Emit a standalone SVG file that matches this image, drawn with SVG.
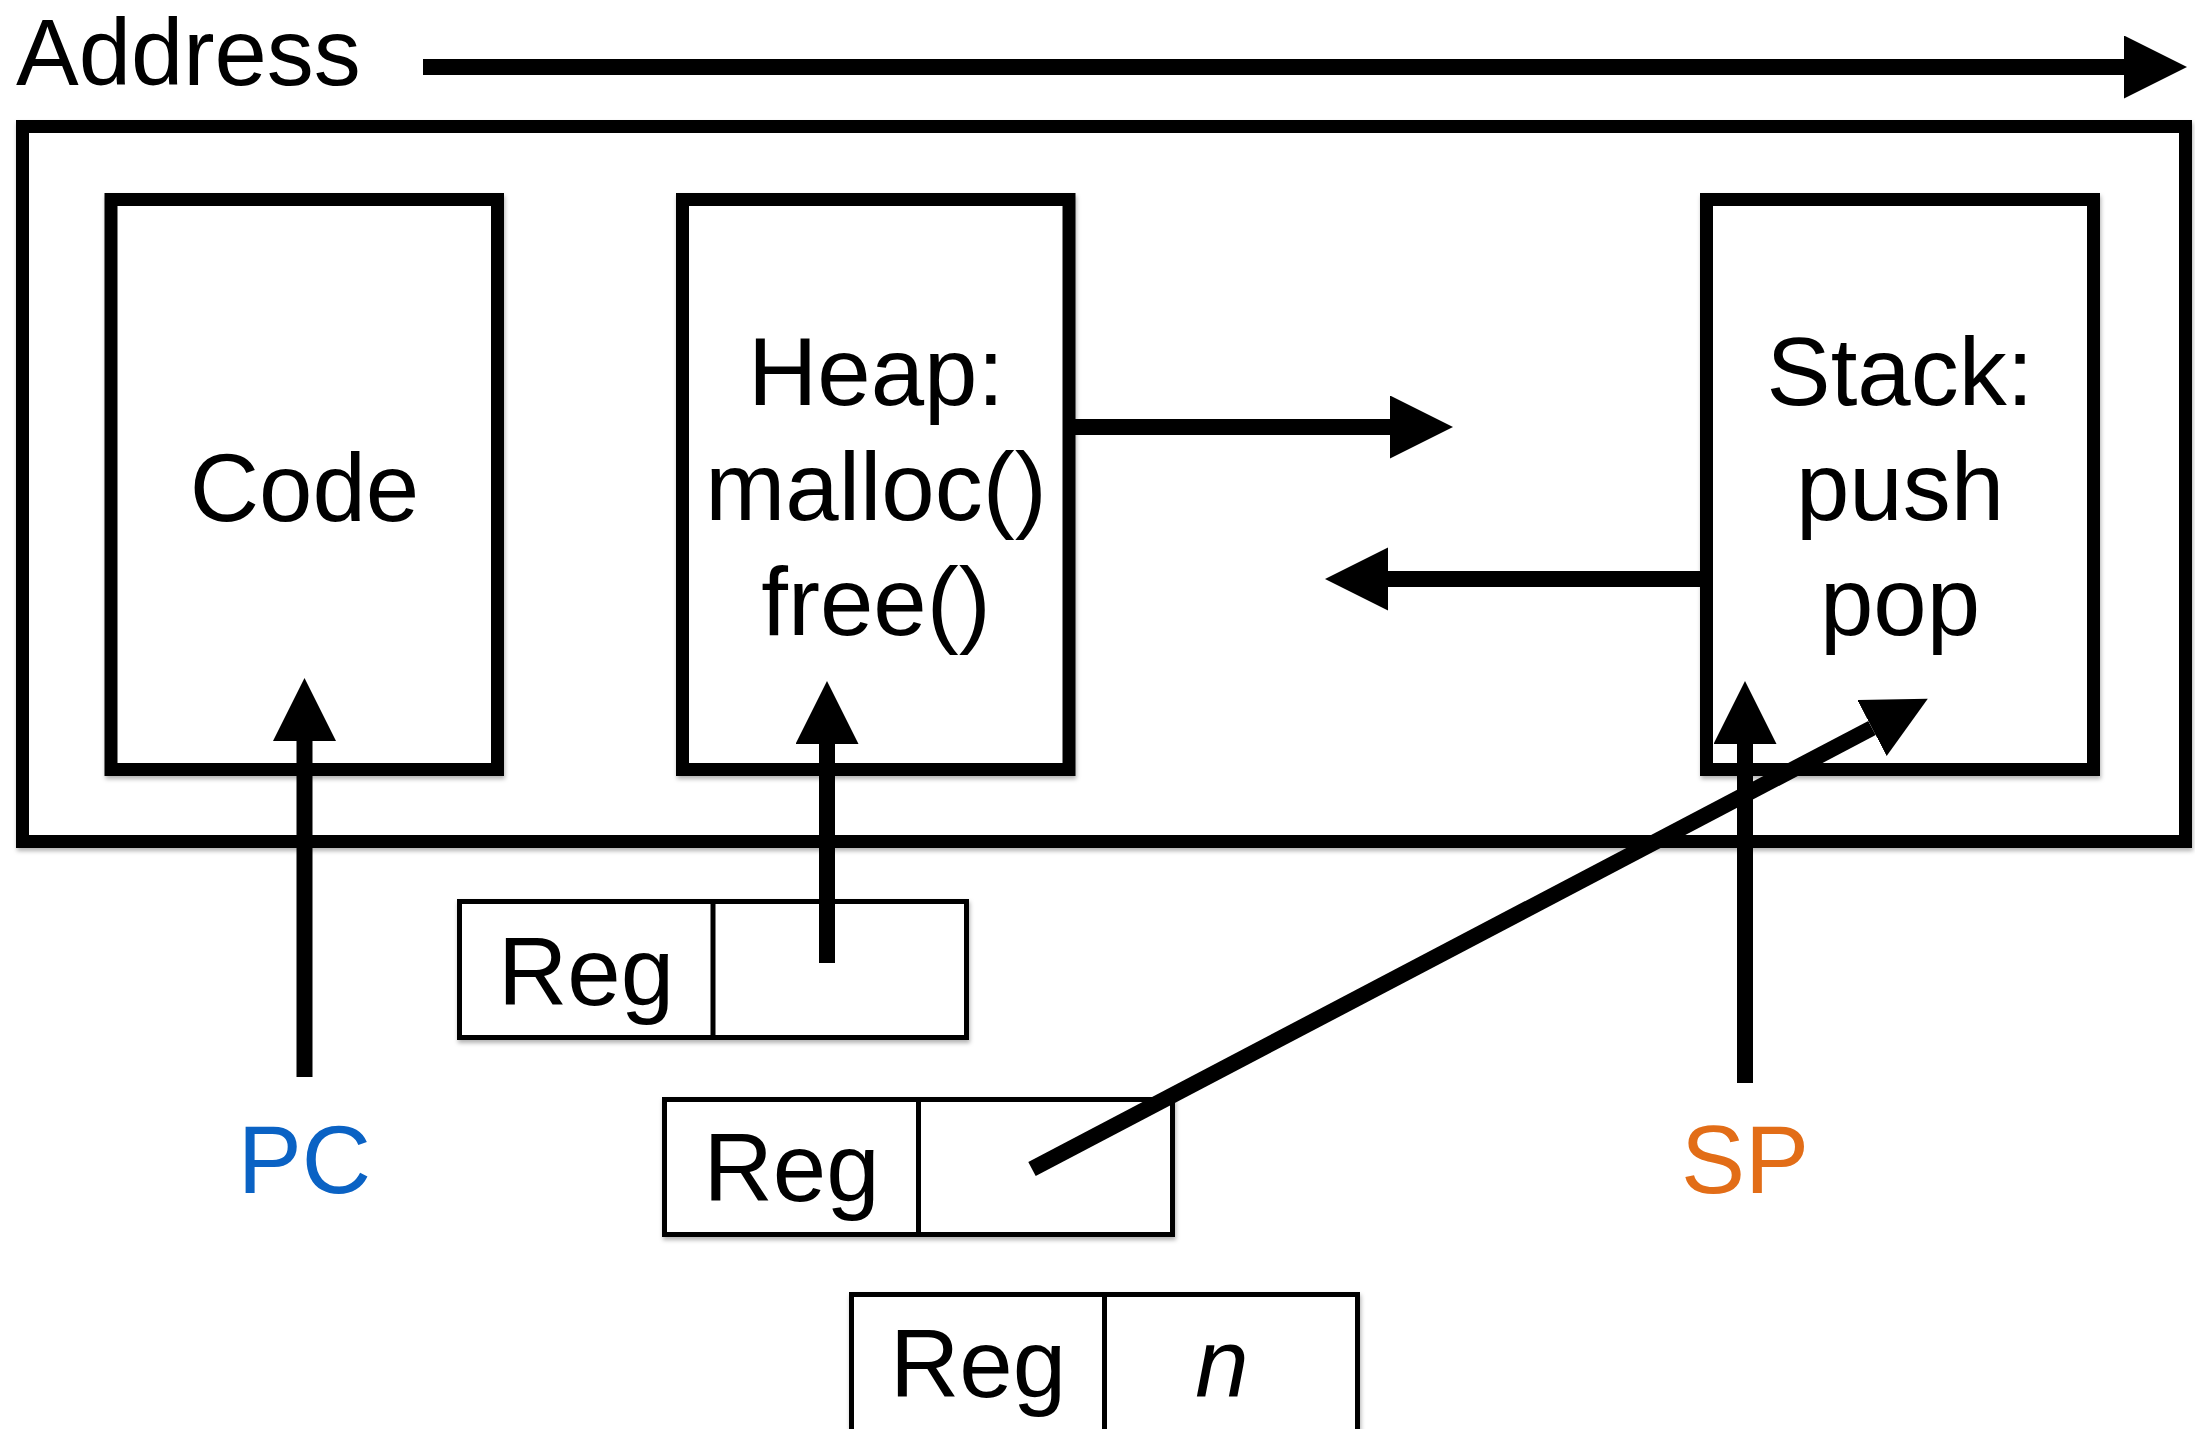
<svg xmlns="http://www.w3.org/2000/svg" width="2195" height="1429" viewBox="0 0 2195 1429">
  <style>
    .t { font-family: "Liberation Sans", Arial, sans-serif; font-size: 96px; fill: #000; }
    .mid { text-anchor: middle; }
    .seg { fill: #fff; stroke: #000; stroke-width: 13; }
    .reg { fill: #fff; stroke: #000; stroke-width: 5; }
    .conn { stroke: #000; stroke-width: 16; fill: none; marker-end: url(#head); }
  </style>
  <defs>
    <filter id="sh" x="-5%" y="-5%" width="110%" height="115%">
      <feDropShadow dx="1" dy="3" stdDeviation="2" flood-color="#000" flood-opacity="0.3"/>
    </filter>
    <marker id="head" markerUnits="userSpaceOnUse" markerWidth="64" markerHeight="64" refX="0" refY="31.5" orient="auto">
      <path d="M0,0 L63,31.5 L0,63 Z" fill="#000"/>
    </marker>
  </defs>
  <rect width="2195" height="1429" fill="#fff"/>

  <g id="address-label">
    <text class="t" x="16" y="85" style="font-size:94px">Address</text>
  </g>

  <g id="address-space">
    <rect class="seg" x="22.5" y="126.5" width="2163" height="715" fill="none" filter="url(#sh)"/>
  </g>

  <g id="code">
    <rect class="seg" x="111" y="199.5" width="386.5" height="570" filter="url(#sh)"/>
    <text class="t mid" x="304.5" y="521">Code</text>
  </g>

  <g id="heap">
    <rect class="seg" x="682.5" y="199.5" width="386.5" height="570" filter="url(#sh)"/>
    <text class="t mid" x="876" y="405">Heap:</text>
    <text class="t mid" x="876" y="520">malloc()</text>
    <text class="t mid" x="876" y="635">free()</text>
  </g>

  <g id="stack">
    <rect class="seg" x="1706.5" y="199.5" width="387" height="570" filter="url(#sh)"/>
    <text class="t mid" x="1900" y="405">Stack:</text>
    <text class="t mid" x="1900" y="520">push</text>
    <text class="t mid" x="1900" y="635">pop</text>
  </g>

  <g id="reg1">
    <rect class="reg" x="459.5" y="901.5" width="507" height="136" filter="url(#sh)"/>
    <line x1="713" y1="901.5" x2="713" y2="1037.5" stroke="#000" stroke-width="5"/>
    <text class="t mid" x="586" y="1005">Reg</text>
  </g>

  <g id="reg2">
    <rect class="reg" x="664.5" y="1099.5" width="508" height="135" filter="url(#sh)"/>
    <line x1="918.5" y1="1099.5" x2="918.5" y2="1234.5" stroke="#000" stroke-width="5"/>
    <text class="t mid" x="791.5" y="1201">Reg</text>
  </g>

  <g id="reg3">
    <rect class="reg" x="851.5" y="1294.5" width="506" height="140" filter="url(#sh)"/>
    <line x1="1104.5" y1="1294.5" x2="1104.5" y2="1434" stroke="#000" stroke-width="5"/>
    <text class="t mid" x="978" y="1397">Reg</text>
    <text class="t mid" x="1222" y="1396" font-style="italic">n</text>
  </g>

  <g id="pc">
    <text class="t mid" x="304.5" y="1193" style="fill:#0a62c4">PC</text>
  </g>

  <g id="sp">
    <text class="t mid" x="1745" y="1193" style="fill:#e26d17">SP</text>
  </g>

  <g id="connectors">
    <line class="conn" x1="423" y1="67" x2="2124" y2="67"/>
    <line class="conn" x1="304.5" y1="1077" x2="304.5" y2="741"/>
    <line class="conn" x1="827" y1="963" x2="827" y2="744"/>
    <line class="conn" x1="1069" y1="427" x2="1390" y2="427"/>
    <line class="conn" x1="1706" y1="579" x2="1388" y2="579"/>
    <line class="conn" x1="1745" y1="1083" x2="1745" y2="744"/>
    <line class="conn" x1="1032" y1="1169" x2="1872" y2="728"/>
  </g>
</svg>
